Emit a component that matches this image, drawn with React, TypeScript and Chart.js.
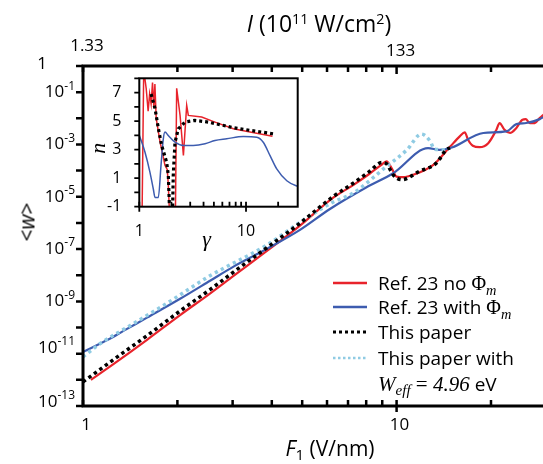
import React, { useEffect, useRef } from "react";
import { Chart, registerables } from "chart.js";
Chart.register(...registerables);

const FONT = '"Open Sans", "DejaVu Sans", sans-serif';
const SERIF = '"Liberation Serif", "DejaVu Serif", serif';
const RED = "#e8232b";
const BLUE = "#3d5caf";
const LIGHT = "#8fcbe3";
const BLACK = "#000000";

// ---------- main panel: <w> vs F1 (V/nm) ----------
const redF = [1.06, 1.25, 1.6, 2.04, 2.54, 3.02, 3.85, 4.92, 6.28, 7.27, 8.2, 8.9, 9.29, 9.64, 10.0, 10.5, 11.3, 13.1, 14.8, 15.9, 16.5, 16.9, 17.5, 18.4, 19.6, 20.8, 21.3, 22.1, 23.0, 24.1, 25.2, 25.8, 26.6, 27.6, 28.6, 29.5];
const redW = [1.0e-12, 3.98e-12, 3.4e-11, 3.0e-10, 2.0e-9, 9.5e-9, 8.3e-8, 7.9e-7, 9.3e-6, 2.8e-5, 7.6e-5, 1.58e-4, 2.24e-4, 1.26e-4, 5.9e-5, 5.6e-5, 6.9e-5, 1.66e-4, 8.1e-4, 2.04e-3, 2.9e-3, 1.51e-3, 8.9e-4, 7.9e-4, 1.12e-3, 3.6e-3, 6.6e-3, 3.6e-3, 2.75e-3, 4.3e-3, 8.9e-3, 9.3e-3, 6.6e-3, 6.6e-3, 1.02e-2, 1.41e-2];

const blueF = [1.0, 1.2, 1.35, 1.6, 2.04, 2.55, 3.02, 3.85, 4.92, 6.13, 8.02, 9.75, 12.6, 13.7, 15.0, 18.9, 22.4, 24.1, 25.9, 28.6, 29.3];
const blueW = [1.17e-11, 3.39e-11, 7.6e-11, 2.4e-10, 1.26e-9, 6.3e-9, 2.14e-8, 1.0e-7, 5.4e-7, 3.4e-6, 2.3e-5, 7.9e-5, 7.2e-4, 6.2e-4, 7.6e-4, 2.75e-3, 3.16e-3, 6.0e-3, 6.6e-3, 9.3e-3, 1.1e-2];

const blackF = [1.0, 1.25, 1.6, 2.04, 2.54, 3.02, 3.85, 4.92, 6.28, 7.27, 8.2, 8.97, 9.29, 9.75, 10.4, 11.8, 13.4, 14.4, 14.8];
const blackW = [8.3e-13, 5.9e-12, 4.9e-11, 4.3e-10, 2.8e-9, 1.32e-8, 1.1e-7, 9.8e-7, 1.02e-5, 3.3e-5, 9.3e-5, 2.04e-4, 1.82e-4, 6.9e-5, 4.5e-5, 9.3e-5, 1.95e-4, 6.3e-4, 7.4e-4];

const lightF = [1.0, 1.135, 1.415, 1.81, 2.54, 3.85, 4.92, 6.28, 7.27, 9.29, 10.8, 12.0, 12.8, 13.2, 14.4];
const lightW = [7.6e-12, 2.45e-11, 1.2e-10, 7.1e-10, 9.5e-9, 1.41e-7, 1.05e-6, 6.3e-6, 1.38e-5, 1.45e-4, 6.3e-4, 2.5e-3, 1.32e-3, 6.6e-4, 6.3e-4];

const xTickValues = [1, 2, 3, 4, 5, 6, 7, 8, 9, 10, 20];
const xTickLabels = ["1", "10"];
const xLabelValues = [1, 10];
const topTickLabels = ["1.33", "133"];
const yTickExponents = [-13, -12, -11, -10, -9, -8, -7, -6, -5, -4, -3, -2, -1, 0];
const yLabelExponents = [-13, -11, -9, -7, -5, -3, -1];

// ---------- inset: n vs gamma ----------
const insetBlueG = [1.0, 1.015, 1.131, 1.259, 1.353, 1.403, 1.507, 1.597, 1.679, 1.741, 1.869, 2.16, 2.58, 3.21, 4.13, 5.12, 6.59, 9.43, 12.6, 14.5, 16.8, 19.4, 24.1, 29.5, 30.5];
const insetBlueN = [4.0, 3.87, 2.82, 1.41, 0.24, -0.35, -0.35, 1.88, 3.76, 4.23, 3.99, 3.52, 3.29, 3.29, 3.41, 3.64, 3.76, 3.92, 3.87, 3.52, 2.58, 1.65, 0.82, 0.47, 0.45];

const insetRedG = [1.0, 1.06, 1.1, 1.16, 1.21, 1.25, 1.29, 1.33, 1.37, 1.4, 1.44, 1.56, 1.74, 1.83, 1.87, 1.92, 2.18, 2.24, 2.41, 2.59, 2.78, 2.88, 3.84, 5.12, 7.61, 10.9, 17.7];
const insetRedN = [-2, -2, 8.6, 7.3, 5.7, 6.9, 6.2, 7.7, 5.9, 7.6, 5.2, 3.6, 1.9, 1.6, 0.5, -1.5, -1.5, 7.3, 5.4, 2.6, 6.1, 5.4, 5.28, 4.93, 4.46, 4.23, 3.94];

const insetBlackG = [1.29, 1.403, 1.507, 1.62, 1.806, 1.87, 1.91, 1.94, 2.05, 2.08, 2.16, 2.32, 2.68, 3.32, 4.43, 7.61, 10.9, 18.0];
const insetBlackN = [6.9, 5.9, 4.5, 3.3, 2.1, 1.2, -0.7, -1.3, -1.3, 1.18, 3.5, 4.46, 4.93, 5.05, 4.93, 4.54, 4.35, 4.11];

const insetXTicks = [1, 2, 3, 4, 5, 6, 7, 8, 9, 10, 20];
const insetXLabelValues = [1, 10];
const insetXLabels = ["1", "10"];
const insetYTicks = [-1, 0, 1, 2, 3, 4, 5, 6, 7, 8];
const insetYLabels = [-1, 1, 3, 5, 7];

const pts = (xs: number[], ys: number[]) => xs.map((x, i) => ({ x, y: ys[i] }));

const mainDecor = {
  id: "mainDecor",
  afterDraw(chart: any) {
    const ctx = chart.ctx as CanvasRenderingContext2D;
    const { left, right, top, bottom } = chart.chartArea;
    const xs = chart.scales.x;
    const ys = chart.scales.y;
    ctx.save();
    ctx.strokeStyle = "#000";
    ctx.lineWidth = 3;
    ctx.beginPath();
    ctx.moveTo(left, top - 1.5);
    ctx.lineTo(left, bottom + 1.5);
    ctx.moveTo(left - 1.5, bottom);
    ctx.lineTo(right, bottom);
    ctx.moveTo(left - 1.5, top);
    ctx.lineTo(right, top);
    ctx.stroke();
    ctx.lineWidth = 2.5;
    ctx.beginPath();
    for (const e of yTickExponents) {
      const p = ys.getPixelForValue(Math.pow(10, e));
      ctx.moveTo(left - 7, p);
      ctx.lineTo(left, p);
    }
    for (const v of xTickValues) {
      const p = xs.getPixelForValue(v);
      const major = v === 10;
      ctx.moveTo(p, bottom + (major ? 6 : 0));
      ctx.lineTo(p, bottom - 6);
      ctx.moveTo(p, top);
      ctx.lineTo(p, top + (major ? 8 : 6));
    }
    ctx.stroke();

    ctx.fillStyle = "#000";
    ctx.textBaseline = "middle";
    ctx.textAlign = "right";
    const shift: Record<number, number> = { [-13]: -4, [-11]: -6 };
    for (const e of yLabelExponents) {
      const p = ys.getPixelForValue(Math.pow(10, e)) + (shift[e] || 0);
      const sup = String(e);
      ctx.font = `12px ${FONT}`;
      const w = ctx.measureText(sup).width;
      ctx.fillText(sup, left - 8, p - 6);
      ctx.font = `17px ${FONT}`;
      ctx.fillText("10", left - 8 - w, p);
    }
    ctx.textAlign = "center";
    ctx.font = `17px ${FONT}`;
    ctx.fillText("1", 42, ys.getPixelForValue(1) - 2);
    xLabelValues.forEach((v, i) => {
      const p = xs.getPixelForValue(v);
      ctx.fillText(xTickLabels[i], p + 3, bottom + 19);
    });
    xLabelValues.forEach((v, i) => {
      const p = xs.getPixelForValue(v);
      ctx.fillText(topTickLabels[i], p + 4, top - (i === 0 ? 20 : 15));
    });
    ctx.restore();
  },
};

const insetDecor = {
  id: "insetDecor",
  beforeDraw(chart: any) {
    const ctx = chart.ctx as CanvasRenderingContext2D;
    const { left, right, top, bottom } = chart.chartArea;
    ctx.save();
    ctx.fillStyle = "#fff";
    ctx.fillRect(left, top, right - left, bottom - top);
    ctx.restore();
  },
  afterDraw(chart: any) {
    const ctx = chart.ctx as CanvasRenderingContext2D;
    const { left, right, top, bottom } = chart.chartArea;
    const xs = chart.scales.x;
    const ys = chart.scales.y;
    ctx.save();
    ctx.strokeStyle = "#000";
    ctx.lineWidth = 2;
    ctx.strokeRect(left, top, right - left, bottom - top);
    ctx.lineWidth = 1.8;
    ctx.beginPath();
    for (const v of insetYTicks) {
      const p = ys.getPixelForValue(v);
      ctx.moveTo(left - 5, p);
      ctx.lineTo(left, p);
    }
    for (const v of insetXTicks) {
      const p = xs.getPixelForValue(v);
      const major = v === 10 || v === 1;
      ctx.moveTo(p, bottom + (major ? 5 : 0));
      ctx.lineTo(p, bottom - 5);
    }
    ctx.stroke();
    ctx.fillStyle = "#000";
    ctx.textBaseline = "middle";
    ctx.font = `16px ${FONT}`;
    ctx.textAlign = "right";
    for (const v of insetYLabels) {
      ctx.fillText(String(v), left - 18, ys.getPixelForValue(v));
    }
    ctx.textAlign = "center";
    insetXLabelValues.forEach((v, i) => {
      ctx.fillText(insetXLabels[i], xs.getPixelForValue(v), bottom + 25);
    });
    ctx.font = `italic 22px ${SERIF}`;
    ctx.fillText("\u03b3", (left + right) / 2 - 12, bottom + 34);
    ctx.save();
    ctx.translate(left - 40, top + 70);
    ctx.rotate(-Math.PI / 2);
    ctx.fillText("n", 0, 0);
    ctx.restore();
    ctx.restore();
  },
};

const lineDs = (label: string, data: any[], color: string, width: number, dash: number[], order: number, mono = true) => ({
  label,
  data,
  borderColor: color,
  backgroundColor: color,
  borderWidth: width,
  borderDash: dash,
  pointRadius: 0,
  fill: false,
  order,
  tension: 0,
  cubicInterpolationMode: mono ? ("monotone" as const) : ("default" as const),
});

const sub = { fontSize: "0.72em", verticalAlign: "-0.32em", lineHeight: 0 } as const;
const sup = { fontSize: "0.62em", verticalAlign: "0.55em", lineHeight: 0 } as const;

const Phi = () => (
  <span style={{ fontFamily: SERIF, fontSize: 20 }}>
    {"\u03a6"}
    <span style={{ ...sub, fontStyle: "italic" }}>m</span>
  </span>
);

export default function App() {
  const mainRef = useRef<HTMLCanvasElement>(null);
  const insetRef = useRef<HTMLCanvasElement>(null);

  useEffect(() => {
    const main = new Chart(mainRef.current as HTMLCanvasElement, {
      type: "line",
      data: {
        datasets: [
          lineDs("Ref. 23 no Φm", pts(redF, redW), RED, 2.2, [], 4),
          lineDs("Ref. 23 with Φm", pts(blueF, blueW), BLUE, 2.2, [], 3),
          lineDs("This paper with Weff = 4.96 eV", pts(lightF, lightW), LIGHT, 3.5, [3.2, 3.6], 2),
          lineDs("This paper", pts(blackF, blackW), BLACK, 3.5, [3.4, 3.4], 1),
        ] as any,
      },
      options: {
        animation: false,
        responsive: false,
        maintainAspectRatio: false,
        layout: { padding: 0 },
        plugins: { legend: { display: false }, tooltip: { enabled: false } },
        scales: {
          x: {
            type: "logarithmic",
            position: "bottom",
            min: 1,
            max: 29.3,
            grid: { display: false },
            border: { display: false },
            ticks: { display: false },
            afterFit: (s: any) => { s.height = 58; },
          },
          x2: {
            type: "logarithmic",
            position: "top",
            min: 1,
            max: 29.3,
            grid: { display: false },
            border: { display: false },
            ticks: { display: false },
            afterFit: (s: any) => { s.height = 66; },
          },
          y: {
            type: "logarithmic",
            min: 1e-13,
            max: 1,
            grid: { display: false },
            border: { display: false },
            ticks: { display: false },
            afterFit: (s: any) => { s.width = 83; },
          },
        } as any,
      },
      plugins: [mainDecor],
    });

    const inset = new Chart(insetRef.current as HTMLCanvasElement, {
      type: "line",
      data: {
        datasets: [
          lineDs("red", pts(insetRedG, insetRedN), RED, 1.5, [], 3, false),
          lineDs("blue", pts(insetBlueG, insetBlueN), BLUE, 1.5, [], 2),
          lineDs("black", pts(insetBlackG, insetBlackN), BLACK, 3.2, [3, 3], 1, false),
        ] as any,
      },
      options: {
        animation: false,
        responsive: false,
        maintainAspectRatio: false,
        layout: { padding: { top: 8.3, right: 7.3, left: 0, bottom: 0 } },
        plugins: { legend: { display: false }, tooltip: { enabled: false } },
        scales: {
          x: {
            type: "logarithmic",
            min: 1,
            max: 30.5,
            grid: { display: false },
            border: { display: false },
            ticks: { display: false },
            afterFit: (s: any) => { s.height = 53.3; },
          },
          y: {
            type: "linear",
            min: -1,
            max: 8,
            grid: { display: false },
            border: { display: false },
            ticks: { display: false },
            afterFit: (s: any) => { s.width = 54.3; },
          },
        } as any,
      },
      plugins: [insetDecor],
    });

    return () => {
      main.destroy();
      inset.destroy();
    };
  }, []);

  const legendRows = [
    { y: 283, color: RED, dash: "", w: 2.5, text: <>Ref. 23 no <Phi /></> },
    { y: 307, color: BLUE, dash: "", w: 2.5, text: <>Ref. 23 with <Phi /></> },
    { y: 332, color: BLACK, dash: "3 3", w: 3, text: <>This paper</> },
    { y: 358, color: LIGHT, dash: "2.5 2.5", w: 2.5, text: <>This paper with</> },
  ];

  const abs = (x: number, y: number, extra: any = {}) => ({
    position: "absolute" as const,
    left: x,
    top: y,
    transform: "translate(-50%, -50%)",
    whiteSpace: "nowrap" as const,
    lineHeight: 1,
    ...extra,
  });

  return (
    <div style={{ position: "absolute", left: 0, top: 0, width: 543, height: 464, background: "#fff", overflow: "hidden", fontFamily: FONT, color: "#000" }}>
      <canvas ref={mainRef} width={543} height={464} style={{ position: "absolute", left: 0, top: 0, width: 543, height: 464 }} />
      <canvas ref={insetRef} width={220} height={190} style={{ position: "absolute", left: 85, top: 70, width: 220, height: 190 }} />

      <div style={abs(319, 23, { fontSize: 23 })}>
        <i>I</i> (10<span style={sup}>11</span> W/cm<span style={sup}>2</span>)
      </div>
      <div style={abs(330, 448, { fontSize: 21 })}>
        <i>F</i><span style={sub}>1</span> (V/nm)
      </div>
      <div style={abs(27, 222, { fontSize: 21, transform: "translate(-50%, -50%) rotate(-90deg)" })}>
        &lt;<i>w</i>&gt;
      </div>

      <svg width={45} height={100} style={{ position: "absolute", left: 328, top: 270 }}>
        {legendRows.map((r, i) => (
          <line key={i} x1={5} x2={39} y1={r.y - 270} y2={r.y - 270} stroke={r.color} strokeWidth={r.w} strokeDasharray={r.dash || undefined} />
        ))}
      </svg>
      {legendRows.map((r, i) => (
        <div key={i} style={{ position: "absolute", left: 378, top: r.y, transform: "translateY(-50%)", whiteSpace: "nowrap", lineHeight: 1, fontSize: 19 }}>
          {r.text}
        </div>
      ))}
      <div style={{ position: "absolute", left: 378, top: 384, transform: "translateY(-50%)", whiteSpace: "nowrap", lineHeight: 1, fontSize: 19 }}>
        <span style={{ fontFamily: SERIF, fontSize: 21 }}>
          <i>W</i><span style={{ ...sub, fontStyle: "italic" }}>eff</span> = <i>4.96</i>
        </span>{" "}eV
      </div>
    </div>
  );
}
